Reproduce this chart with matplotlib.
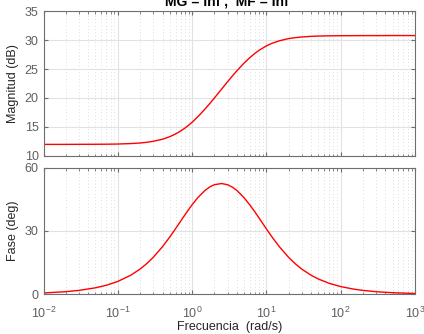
import matplotlib
matplotlib.use('agg')
import matplotlib.pyplot as plt
import numpy as np

# values
freq = [0.01, 0.02, 0.03, 0.05, 0.07, 0.1, 0.15, 0.2, 0.25, 0.3, 0.4, 0.5, 0.6,
        0.7, 0.8, 0.9, 1, 1.2, 1.5, 1.75, 2, 2.5, 3, 3.5, 4, 5, 6, 7, 8, 10, 12,
        15, 20, 25, 30, 40, 50, 70, 100, 150, 200, 300, 500, 1000]
mag_db = [12.00, 12.00, 12.01, 12.02, 12.03, 12.06, 12.14, 12.24, 12.37, 12.53,
          12.89, 13.32, 13.80, 14.29, 14.80, 15.31, 15.81, 16.78, 18.12, 19.11,
          20.01, 21.54, 22.79, 23.82, 24.67, 26.01, 26.97, 27.69, 28.24, 28.98,
          29.45, 29.87, 30.25, 30.42, 30.52, 30.63, 30.68, 30.72, 30.74, 30.75,
          30.76, 30.76, 30.77, 30.77]
phase_deg = [0.61, 1.22, 1.83, 3.05, 4.26, 6.07, 9.05, 11.96, 14.77, 17.48,
             22.55, 27.09, 31.11, 34.59, 37.60, 40.19, 42.40, 45.87, 49.28, 50.97,
             51.94, 52.48, 51.92, 50.73, 49.23, 45.80, 42.31, 39.05, 36.07, 31.00,
             27.00, 22.47, 17.42, 14.17, 11.92, 9.01, 7.24, 5.19, 3.64, 2.43,
             1.82, 1.21, 0.73, 0.36]

mag_ticks = [10, 15, 20, 25, 30, 35]
phase_ticks = [0, 30, 60]
title = 'MG = Inf ,  MF = Inf'

plt.rcParams['font.family'] = ['Liberation Sans', 'DejaVu Sans']
plt.rcParams['font.size'] = 9

ax_col = '#262626'
tick_col = '#606060'

fig = plt.figure(figsize=(4.24, 3.34), dpi=100)
ax1 = fig.add_axes([0.1026, 0.533, 0.876, 0.434])
ax2 = fig.add_axes([0.1026, 0.119, 0.876, 0.379])

def style_axes(ax):
    ax.set_xscale('log')
    ax.set_xlim(1e-2, 1e3)
    ax.grid(True, which='major', color='#e2e2e2', linewidth=0.8, linestyle='-')
    ax.grid(True, which='minor', color='#d4d4d4', linewidth=0.6, linestyle=(0, (1, 3)))
    ax.set_axisbelow(True)
    for s in ax.spines.values():
        s.set_color('#6e6e6e')
        s.set_linewidth(0.8)
    ax.tick_params(which='both', direction='in', top=True, right=True,
                   colors='#6e6e6e', labelcolor=tick_col, labelsize=9)
    ax.tick_params(which='major', length=3)
    ax.tick_params(which='minor', length=1.8)

ax1.plot(freq, mag_db, color='#ff0000', linewidth=1.0)
style_axes(ax1)
ax1.set_ylim(10, 35)
ax1.set_yticks(mag_ticks)
ax1.tick_params(axis='x', labelbottom=False)
ax1.set_ylabel('Magnitud (dB)', color=ax_col, labelpad=4)

ax2.plot(freq, phase_deg, color='#ff0000', linewidth=1.0)
style_axes(ax2)
ax2.set_ylim(0, 60)
ax2.set_yticks(phase_ticks)
ax2.tick_params(axis='x', which='major', pad=8)
ax2.set_ylabel('Fase (deg)', color=ax_col, labelpad=4)
ax2.set_xlabel('Frecuencia  (rad/s)', color=ax_col, labelpad=0)

fig.text(0.535, 0.997, title, ha='center', va='center', fontsize=10,
         fontweight='bold', color='#000000')

fig.savefig('out.png', dpi=100)
